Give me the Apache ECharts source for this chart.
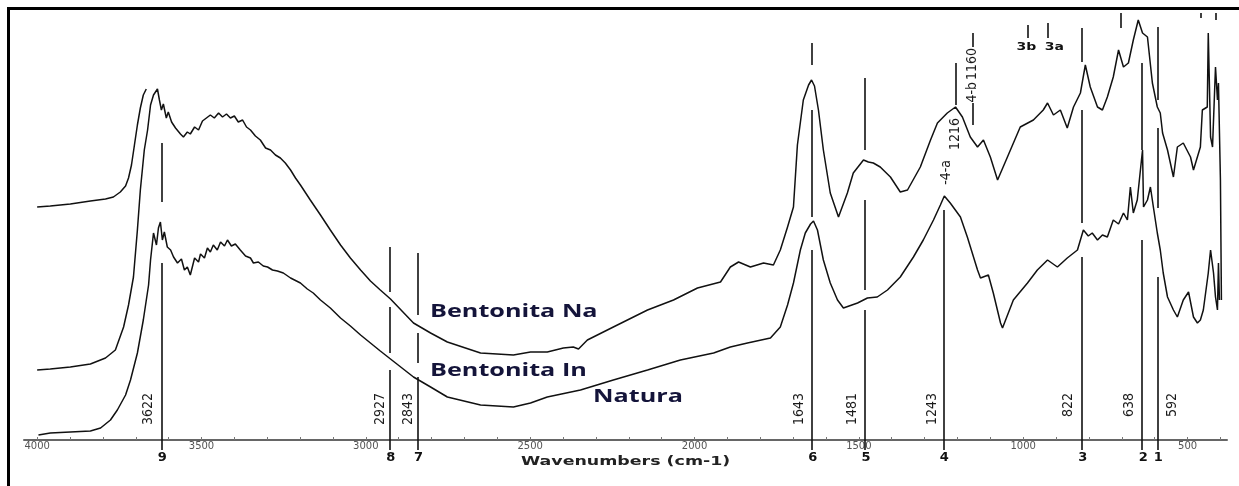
<!DOCTYPE html>
<html>
<head>
<meta charset="utf-8">
<title>FTIR Bentonita</title>
<script src="https://cdn.jsdelivr.net/npm/echarts@6/dist/echarts.min.js"></script>
<style>
  html, body { margin: 0; padding: 0; background: #fff; }
  #chart { width: 1239px; height: 486px; }
</style>
</head>
<body>
<div id="chart"></div>
<script>
// wavenumbers (cm-1) and intensity (arbitrary units)
const naWave = [4000,3960,3899,3838,3792,3762,3737,3722,3707,3695,3686,3674,3664,3655,3646,3634,3628,3622,3616,3607,
  3601,3591,3579,3564,3555,3543,3534,3521,3509,3497,3485,3473,3461,3448,3436,3424,3412,3400,3388,3375,
  3363,3351,3336,3321,3305,3290,3275,3260,3245,3229,3214,3199,3169,3138,3108,3077,3047,3016,2986,2956,
  2925,2855,2803,2752,2651,2551,2499,2448,2399,2369,2353,2326,2247,2143,2064,1991,1921,1891,1866,1830,
  1790,1760,1739,1717,1699,1687,1669,1653,1644,1635,1623,1608,1587,1562,1535,1517,1486,1471,1456,1435,
  1404,1374,1352,1313,1282,1261,1231,1206,1185,1161,1139,1121,1100,1078,1048,1009,969,939,926,908,
  887,866,847,826,811,796,774,759,744,726,710,695,680,665,650,637,622,607,592,583,
  576,561,543,531,513,491,482,461,455,440,437,430,424,415,409,406,400,397]
const naAbs = [70,71,73,76,82,90,113,135,163,210,250,290,310,335,345,351,340,330,336,322,
  328,318,312,306,303,308,306,313,310,319,322,325,322,327,323,326,322,324,318,320,
  313,310,304,300,292,290,285,282,277,270,262,255,240,225,210,195,182,170,159,150,
  141,117,107,98,87,85,88,88,92,93,91,100,113,130,140,152,158,173,178,173,
  177,175,190,213,233,295,340,355,360,354,330,290,247,223,247,267,280,278,277,273,
  263,248,250,273,300,317,327,333,323,303,293,300,283,260,283,313,320,330,337,325,
  330,312,333,347,375,353,333,330,343,363,390,373,377,400,420,407,403,357,333,327,
  307,290,263,293,297,283,270,293,330,333,407,303,293,373,340,357,260,140]

const inWave = [3996,3960,3899,3838,3807,3777,3756,3731,3716,3695,3677,3661,3655,3646,3637,3631,3625,3619,3613,3604,
  3594,3585,3573,3561,3552,3543,3534,3521,3509,3503,3491,3482,3473,3464,3452,3442,3430,3421,3409,3397,
  3382,3366,3351,3342,3327,3312,3299,3284,3269,3251,3229,3199,3178,3160,3138,3108,3077,3047,3016,2986,
  2956,2925,2855,2803,2752,2651,2551,2499,2448,2347,2247,2143,2043,1942,1891,1839,1769,1739,1717,1699,
  1678,1663,1647,1638,1626,1608,1587,1565,1547,1504,1474,1444,1413,1374,1334,1304,1273,1252,1240,1222,
  1191,1170,1139,1130,1106,1091,1069,1063,1030,987,957,926,896,866,835,817,802,790,774,759,
  744,726,710,695,683,674,665,653,637,634,622,613,604,592,583,574,561,543,531,513,
  497,482,470,461,452,437,430,421,415,409,406,403]
const inAbs = [5,7,8,9,12,20,30,45,60,87,120,155,180,207,195,212,218,200,208,193,
  190,183,177,181,170,173,165,182,178,186,182,192,188,195,190,198,194,200,194,196,
  190,184,182,177,178,174,173,170,169,167,162,157,151,147,140,132,122,114,105,97,
  89,81,63,53,43,35,33,37,43,50,60,70,80,87,93,97,102,113,135,157,
  190,207,216,219,210,180,157,140,132,137,142,143,150,163,183,200,220,235,244,237,
  223,203,170,162,165,147,117,112,140,157,170,180,173,182,190,210,204,207,200,205,
  203,220,216,227,220,253,227,240,290,233,240,253,233,207,190,167,143,130,123,140,
  148,123,117,120,130,167,190,167,143,130,177,140]

// short trace fragment at the top left
const fragWave = [4000,3960,3899,3838,3792,3768,3747,3731,3722,3713,3704,3695,3686,3677,3668]
const fragAbs = [233,234,236,239,241,243,248,254,262,275,295,315,332,345,351]

// numbered band positions
const peakWaves = [3622,2927,2843,1643,1481,1243,822,638,592]
const peakLabels = ['3622','2927','2843','1643','1481','1243','822','638','592']
const peakNumbers = ['9','8','7','6','5','4','3','2','1']
// visible pieces of each band line (intensity from / to)
const peakSegments = [
  [[238,297],[-10,177]],
  [[148,193],[87,133],[-10,70]],
  [[125,187],[77,107],[-10,63]],
  [[375,397],[223,330],[-10,190]],
  [[290,362],[150,240],[-10,130]],
  [[-10,230]],
  [[378,412],[217,330],[-10,183]],
  [[290,377],[-10,200]],
  [[340,413],[232,312],[-10,163]]
]

// small marks: wavenumber, from, to
const markTicks = [[1206,335,377],[1155,393,407],[1155,315,337],[987,402,415],[926,402,417],[704,412,427],[461,422,427],[415,420,427]]

// side annotations (rotated)
const sideTexts = ['-4-a','1216','4-b','1160']
const sideWaves = [1234,1206,1155,1155]
const sideTops = [280,322,358,392]

const subTexts = ['3b','3a']
const subWaves = [990,905]

const tickValues = [4000,3900,3800,3700,3600,3500,3400,3300,3200,3100,3000,2900,2800,2700,2600,2500,2400,2300,2200,
  2100,2000,1900,1800,1700,1600,1500,1400,1300,1200,1100,1000,900,800,700,600,500,400]
const labelValues = [4000,3500,3000,2500,2000,1500,1000,500]

const chart = echarts.init(document.getElementById('chart'))

const pair = (xs, ys) => xs.map((x, i) => [x, ys[i]])

const segs = []
peakWaves.forEach((w, i) => {
  peakSegments[i].forEach(s => segs.push({ coords: [[w, s[0]], [w, s[1]]] }))
})
markTicks.forEach(t => segs.push({ coords: [[t[0], t[1]], [t[0], t[2]]] }))

const labelDx = [-13, -9, -9, -13, -13, -11, -13, -13, 15]
const narrowFont = '14px "Liberation Sans Narrow", "DejaVu Sans Condensed", sans-serif'

const rotTexts = peakLabels.concat(sideTexts)
const rotData = peakWaves.map(w => [w, 47]).concat(sideWaves.map((w, i) => [w, sideTops[i]]))
const rotDx = labelDx.concat(sideTexts.map(() => 0))

const traceStyle = { color: '#111', width: 1.5 }

const option = {
  animation: false,
  grid: { left: 24, right: 12, top: 10, bottom: 46 },
  xAxis: {
    type: 'value',
    inverse: true,
    min: 380,
    max: 4040,
    axisLine: { onZero: false, lineStyle: { color: '#666', width: 2 } },
    axisTick: { inside: true, length: 3, customValues: tickValues, lineStyle: { color: '#777' } },
    axisLabel: {
      customValues: labelValues,
      formatter: v => String(v),
      fontSize: 10,
      fontFamily: 'DejaVu Sans',
      color: '#555',
      margin: 1
    },
    splitLine: { show: false }
  },
  yAxis: { type: 'value', min: 0, max: 430, show: false },
  series: [
    { type: 'line', data: pair(naWave, naAbs), showSymbol: false, lineStyle: traceStyle, silent: true },
    { type: 'line', data: pair(inWave, inAbs), showSymbol: false, lineStyle: traceStyle, silent: true },
    { type: 'line', data: pair(fragWave, fragAbs), showSymbol: false, lineStyle: traceStyle, silent: true },
    {
      type: 'lines',
      coordinateSystem: 'cartesian2d',
      clip: false,
      silent: true,
      data: segs,
      lineStyle: { color: '#111', width: 1.6, opacity: 1 }
    },
    {
      type: 'custom',
      silent: true,
      data: rotData,
      renderItem: (params, api) => {
        const p = api.coord([api.value(0), api.value(1)])
        return {
          type: 'text',
          x: p[0] + rotDx[params.dataIndex],
          y: p[1],
          rotation: Math.PI / 2,
          style: { text: rotTexts[params.dataIndex], font: narrowFont, fill: '#1a1a1a', align: 'right', verticalAlign: 'middle' }
        }
      }
    },
    {
      type: 'custom',
      silent: true,
      data: peakWaves.map(w => [w, -18]),
      renderItem: (params, api) => {
        const p = api.coord([api.value(0), api.value(1)])
        return {
          type: 'text', x: p[0] + 1, y: p[1],
          style: { text: peakNumbers[params.dataIndex], font: 'bold 13px "DejaVu Sans"', fill: '#111', align: 'center', verticalAlign: 'middle' }
        }
      }
    },
    {
      type: 'custom',
      silent: true,
      data: subWaves.map(w => [w, 393]),
      renderItem: (params, api) => {
        const p = api.coord([api.value(0), api.value(1)])
        return {
          type: 'text', x: p[0], y: p[1], scaleX: 1.4,
          style: { text: subTexts[params.dataIndex], font: 'bold 10px "DejaVu Sans"', fill: '#111', align: 'center', verticalAlign: 'middle' }
        }
      }
    }
  ],
  graphic: [
    { type: 'rect', silent: true, shape: { x: 8.5, y: 8.5, width: 1240, height: 500 }, style: { fill: 'none', stroke: '#000', lineWidth: 3 } },
    { type: 'text', silent: true, x: 430, y: 312, scaleX: 1.4, style: { text: 'Bentonita Na', font: 'bold 18px "Open Sans"', fill: '#14143a', verticalAlign: 'middle' } },
    { type: 'text', silent: true, x: 430, y: 371, scaleX: 1.4, style: { text: 'Bentonita In', font: 'bold 18px "Open Sans"', fill: '#14143a', verticalAlign: 'middle' } },
    { type: 'text', silent: true, x: 593, y: 397, scaleX: 1.4, style: { text: 'Natura', font: 'bold 18px "Open Sans"', fill: '#14143a', verticalAlign: 'middle' } },
    { type: 'text', silent: true, x: 521, y: 462, scaleX: 1.45, style: { text: 'Wavenumbers (cm-1)', font: 'bold 12px "DejaVu Sans"', fill: '#222', verticalAlign: 'middle' } }
  ]
}

chart.setOption(option)

window.addEventListener('resize', () => chart.resize())
</script>
</body>
</html>
